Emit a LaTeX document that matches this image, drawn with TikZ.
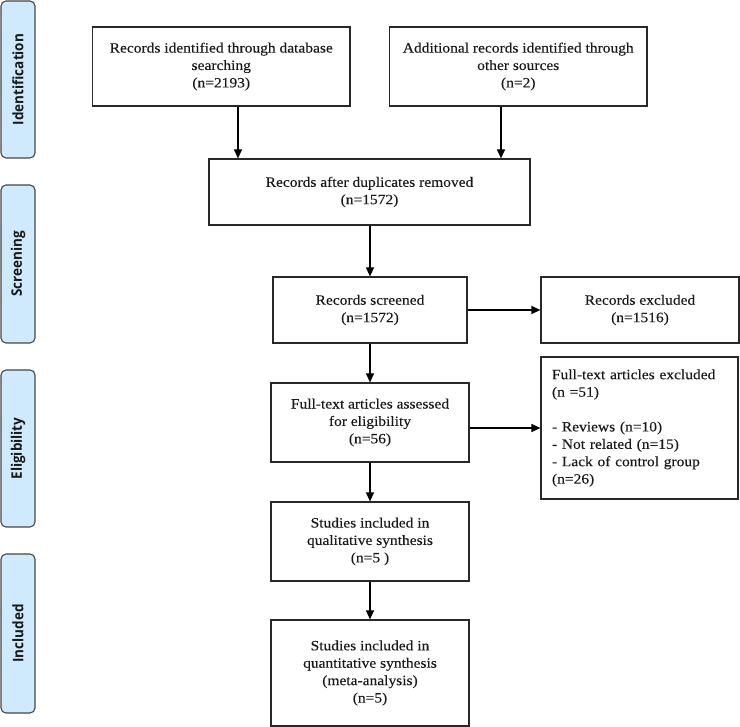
\documentclass[tikz,border=0pt]{standalone}
\usepackage{fontspec}
\setmainfont{Liberation Serif}[FakeStretch=1.09,FakeBold=0.2]
\newfontfamily\labelfont{Open Sans}[FakeStretch=0.93]
\usetikzlibrary{arrows.meta}
\definecolor{lblfill}{RGB}{206,234,252}
\definecolor{lbldraw}{RGB}{70,70,70}
\definecolor{boxdraw}{RGB}{40,40,40}
\tikzset{
  box/.style={draw=boxdraw, line width=1.2pt, align=center, inner sep=0pt,
    text=black!90, font=\fontsize{14.2}{17.4}\selectfont},
  side/.style={draw=lbldraw, fill=lblfill, rounded corners=5pt, line width=1.1pt,
    rotate=90, minimum height=34pt, inner sep=0pt, text=black!90,
    font=\labelfont\bfseries\fontsize{14.5}{17}\selectfont},
  arr/.style={line width=1.2pt, -{Triangle[length=9pt,width=8pt]}}
}
\begin{document}
\begin{tikzpicture}[x=1pt,y=-1pt]
\useasboundingbox (0,0) rectangle (740,727);
% phase labels
\node[side, minimum width=157pt] (s1) at (18,79.5) {Identification};
\node[side, minimum width=158pt] (s2) at (18,264) {Screening};
\node[side, minimum width=157pt] (s3) at (18,448.5) {Eligibility};
\node[side, minimum width=159pt] (s4) at (18,633.5) {Included};
% boxes
\node[box, minimum width=257.5pt, minimum height=79pt] (b1) at (221.25,66.5)
  {Records identified through database\\searching\\(n=2193)};
\node[box, minimum width=257.5pt, minimum height=79pt] (b2) at (518.25,66.5)
  {Additional records identified through\\other sources\\(n=2)};
\node[box, minimum width=321pt, minimum height=66pt] (b3) at (369.5,192)
  {Records after duplicates removed\\(n=1572)};
\node[box, minimum width=194pt, minimum height=66pt] (b4) at (370,310)
  {Records screened\\(n=1572)};
\node[box, minimum width=198pt, minimum height=66pt] (b5) at (640,310)
  {Records excluded\\(n=1516)};
\node[box, minimum width=198pt, minimum height=79pt] (b6) at (370,422.5)
  {Full-text articles assessed\\for eligibility\\(n=56)};
\node[box, minimum width=197pt, minimum height=142pt, align=left,
  text width=175pt] (b7) at (639.5,428)
  {Full-text articles excluded\\(n =51)\\\mbox{}\\- Reviews (n=10)\\- Not related (n=15)\\- Lack of control group\\(n=26)};
\node[box, minimum width=198pt, minimum height=79pt] (b8) at (370,541.5)
  {Studies included in\\qualitative synthesis\\(n=5 )};
\node[box, minimum width=198pt, minimum height=106pt] (b9) at (370,673)
  {Studies included in\\quantitative synthesis\\(meta-analysis)\\(n=5)};
% connectors
\coordinate (c1) at (238,0);
\coordinate (c2) at (501,0);
\draw[arr] (b1.south -| c1) -- (b3.north -| c1);
\draw[arr] (b2.south -| c2) -- (b3.north -| c2);
\draw[arr] (b3.south -| b4.north) -- (b4.north);
\draw[arr] (b4.east) -- (b5.west);
\draw[arr] (b4.south) -- (b6.north);
\draw[arr] (b7.west -| b6.east) -- (b7.west);
\draw[arr] (b6.south) -- (b8.north);
\draw[arr] (b8.south) -- (b9.north);
\end{tikzpicture}
\end{document}
